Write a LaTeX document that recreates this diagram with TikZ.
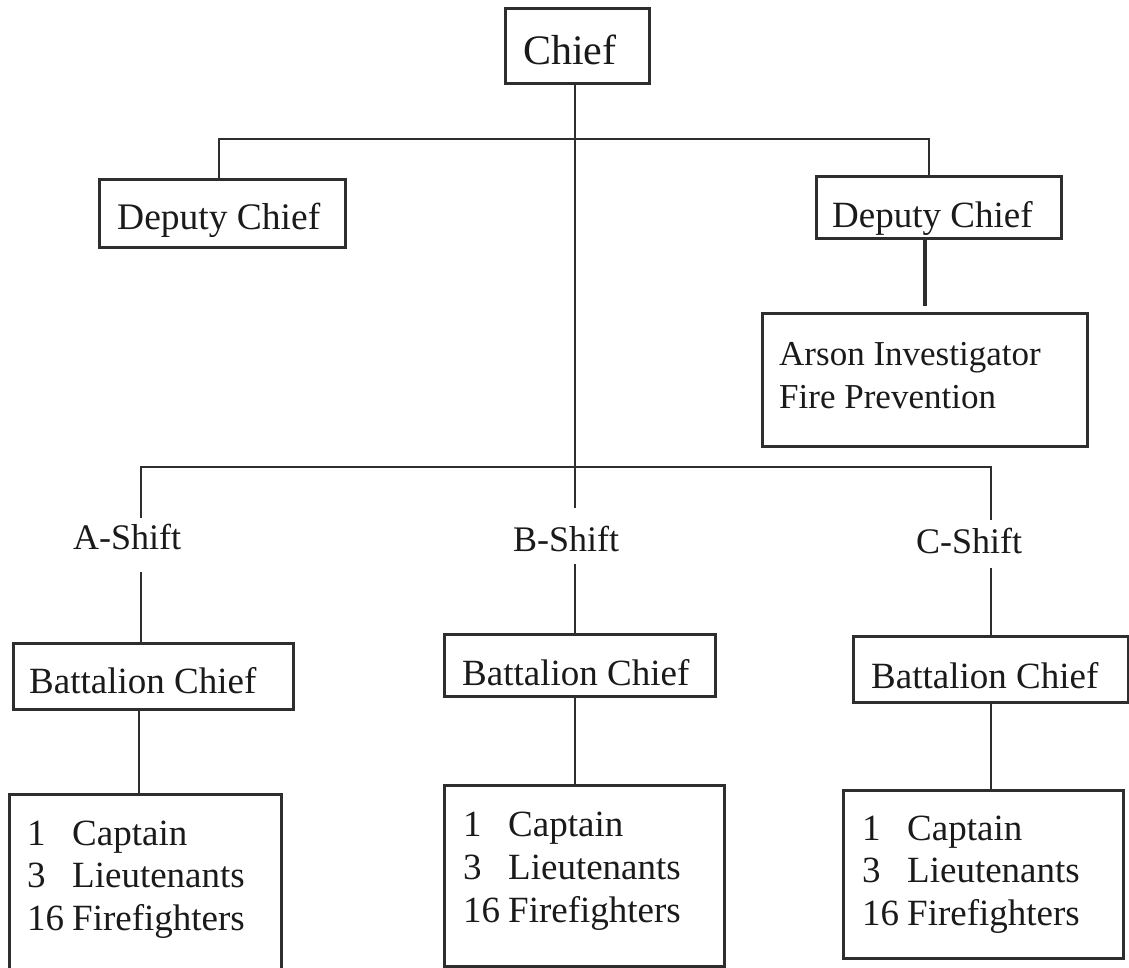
\documentclass[tikz,border=0pt]{standalone}
\usepackage{fontspec}
\setmainfont{Liberation Serif}
\definecolor{ink}{HTML}{1A1A1A}
\definecolor{lineink}{HTML}{2E2E2E}
\tikzset{
  box/.style={draw=lineink, line width=2.6pt, inner sep=0pt, anchor=north west},
  conn/.style={draw=lineink, line width=2.3pt},
  heavyconn/.style={draw=lineink, line width=3.8pt},
  txt/.style={inner sep=0pt, anchor=base west, text=ink},
  shiftlbl/.style={inner sep=0pt, anchor=base west, text=ink, font=\fontsize{36}{42}\selectfont},
}
\newcommand{\listtext}{\begin{tabular}[t]{@{}l@{}}\makebox[45pt][l]{1}Captain\\\makebox[45pt][l]{3}Lieutenants\\\makebox[45pt][l]{16}Firefighters\end{tabular}}
\begin{document}
\begin{tikzpicture}[x=1pt,y=-1pt]
\useasboundingbox (0,0) rectangle (1129,968);
\fill[white] (0,0) rectangle (1129,968);

% boxes
\node[box, minimum width=144pt, minimum height=75pt] (chief) at (504,7) {};
\node[box, minimum width=246pt, minimum height=68pt] (dl) at (98,178) {};
\node[box, minimum width=245pt, minimum height=62pt] (dr) at (815,175) {};
\node[box, minimum width=325pt, minimum height=133pt] (arson) at (761,312) {};
\node[box, minimum width=280pt, minimum height=66pt] (bcA) at (12,642) {};
\node[box, minimum width=271pt, minimum height=62pt] (bcB) at (443,633) {};
\node[box, minimum width=275pt, minimum height=66pt] (bcC) at (852,635) {};
\node[box, minimum width=272pt, minimum height=200pt] (lA) at (8,793) {};
\node[box, minimum width=280pt, minimum height=181pt] (lB) at (443,784) {};
\node[box, minimum width=280pt, minimum height=168pt] (lC) at (842,789) {};

% texts
\node[txt, font=\fontsize{42}{48}\selectfont] (chiefT) at (523,65) {Chief};
\node[txt, font=\fontsize{37.5}{44}\selectfont] (dlT) at (117,230) {Deputy Chief};
\node[txt, font=\fontsize{37}{44}\selectfont] (drT) at (832,228) {Deputy Chief};
\node[txt, font=\fontsize{35}{43}\selectfont] (arsonT) at (779,365)
  {\begin{tabular}[t]{@{}l@{}}Arson Investigator\\Fire Prevention\end{tabular}};
\node[txt, font=\fontsize{37}{44}\selectfont] (bcAT) at (29,693) {Battalion Chief};
\node[txt, font=\fontsize{37}{44}\selectfont] (bcBT) at (462,685) {Battalion Chief};
\node[txt, font=\fontsize{37}{44}\selectfont] (bcCT) at (871,688) {Battalion Chief};
\node[txt, font=\fontsize{37}{42.5}\selectfont] (lAT) at (27,845) {\listtext};
\node[txt, font=\fontsize{37}{43}\selectfont] (lBT) at (463,836) {\listtext};
\node[txt, font=\fontsize{37}{42.5}\selectfont] (lCT) at (862,840) {\listtext};

% shift labels (text height/depth set the gaps of the connectors)
\node[shiftlbl, text height=31pt, text depth=23pt] (ashift) at (73,549) {A-Shift};
\node[shiftlbl, text height=43pt, text depth=13pt] (bshift) at (513,551) {B-Shift};
\node[shiftlbl, text height=33pt, text depth=15pt] (cshift) at (916,553) {C-Shift};

% junction coordinates
\coordinate (jl) at (219,139);
\coordinate (jr) at (929,139);
\coordinate (ja) at (141,467);
\coordinate (jc) at (991,467);
\coordinate (xb) at (575,0);
\coordinate (xd) at (925,0);
\coordinate (xa2) at (139,0);

% connectors
\draw[conn] (chief.south -| xb) -- (bshift.north -| xb);
\draw[conn] (dl.north -| jl) -- (jl) -- (jr) -- (dr.north -| jr);
\draw[heavyconn, shorten >=6pt] (dr.south -| xd) -- (arson.north -| xd);
\draw[conn] (ashift.north -| ja) -- (ja) -- (jc) -- (cshift.north -| jc);

\draw[conn] (ashift.south -| ja) -- (bcA.north -| ja);
\draw[conn] (bcA.south -| xa2) -- (lA.north -| xa2);

\draw[conn] (bshift.south -| xb) -- (bcB.north -| xb);
\draw[conn] (bcB.south -| xb) -- (lB.north -| xb);

\draw[conn] (cshift.south -| jc) -- (bcC.north -| jc);
\draw[conn] (bcC.south -| jc) -- (lC.north -| jc);
\end{tikzpicture}
\end{document}
